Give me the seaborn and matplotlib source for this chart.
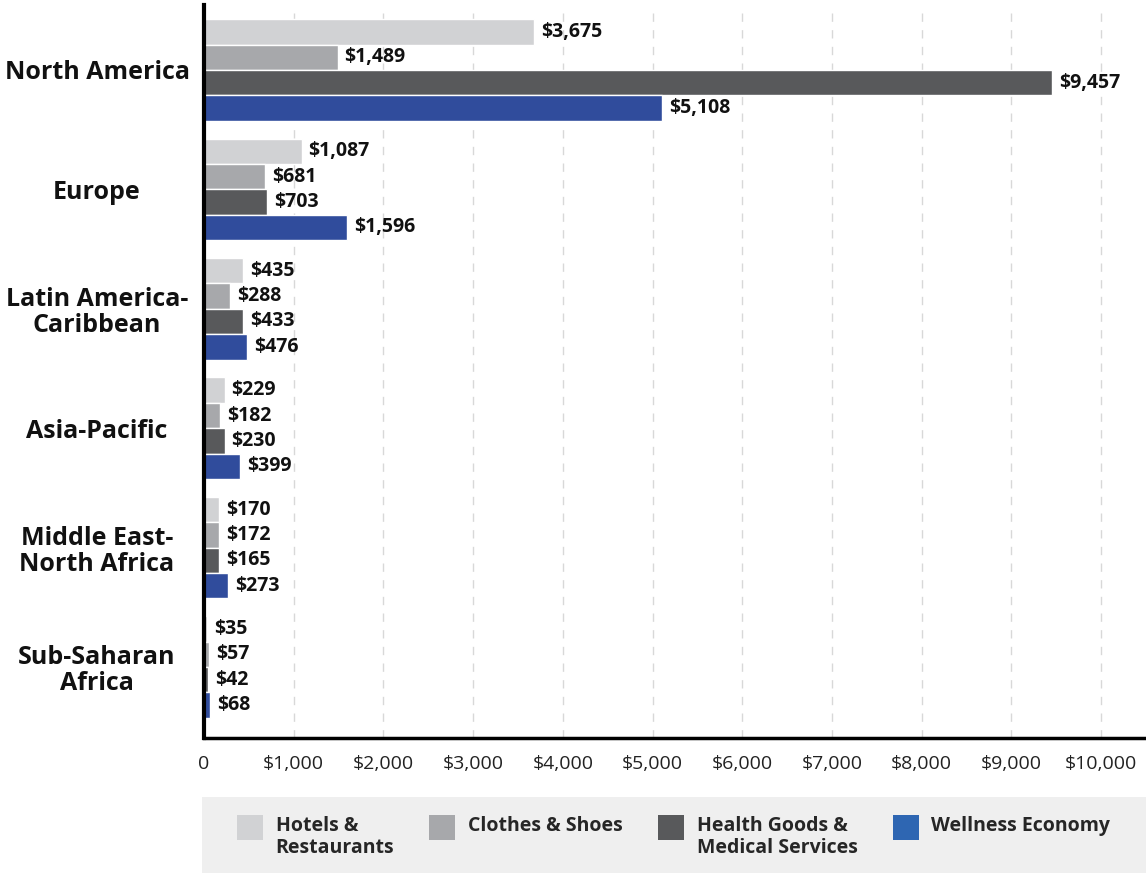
import numpy as np
import pandas as pd
import seaborn as sns
from matplotlib import pyplot as plt
from matplotlib.patches import Patch, Rectangle
from matplotlib.legend_handler import HandlerPatch
import matplotlib

regions = ['North America', 'Europe', 'Latin America-\nCaribbean', 'Asia-Pacific',
           'Middle East-\nNorth Africa', 'Sub-Saharan\nAfrica']
series = ['Hotels &\nRestaurants', 'Clothes & Shoes', 'Health Goods &\nMedical Services', 'Wellness Economy']
hotels = [3675, 1087, 435, 229, 170, 35]
clothes = [1489, 681, 288, 182, 172, 57]
health = [9457, 703, 433, 230, 165, 42]
wellness = [5108, 1596, 476, 399, 273, 68]
xticks = [0, 1000, 2000, 3000, 4000, 5000, 6000, 7000, 8000, 9000, 10000]

bar_colors = ['#d1d2d4', '#a7a8ab', '#58595b', '#304c9c']
legend_colors = ['#d1d2d4', '#a7a8ab', '#58595b', '#2e66b2']

sns.set_style('white')
matplotlib.rcParams['font.family'] = ['Open Sans', 'DejaVu Sans']

rows = []
for name, vals in zip(series, [hotels, clothes, health, wellness]):
    for reg, v in zip(regions, vals):
        rows.append({'region': reg, 'series': name, 'value': v})
df = pd.DataFrame(rows)

fig = plt.figure(figsize=(11.46, 8.73), dpi=100)
ax = fig.add_axes([0.178, 0.1546, 0.822, 0.8397])
sns.barplot(data=df, x='value', y='region', hue='series', order=regions, hue_order=series,
            palette=bar_colors, orient='h', width=0.85, gap=0, saturation=1,
            legend=False, ax=ax)

for cont in ax.containers:
    ax.bar_label(cont, labels=[f'${v:,.0f}' for v in cont.datavalues], padding=5,
                 fontsize=14, fontweight='bold', color='#111111')

ax.set_xlim(0, 10500)
ax.set_ylim(5.594, -0.544)
ax.set_xticks(xticks)
ax.set_xticklabels(['0'] + [f'${t:,}' for t in xticks[1:]], fontsize=14, color='#222222')
ax.set_yticks(range(len(regions)))
ax.set_yticklabels(regions, fontsize=18, fontweight='bold', ha='center', color='#111111',
                   linespacing=1.05)
ax.tick_params(axis='y', length=0, pad=77)
ax.tick_params(axis='x', length=0, pad=12)
ax.set_xlabel('')
ax.set_ylabel('')
ax.xaxis.grid(True, linestyle=(0, (6, 6)), color='#d8d8d8', linewidth=1)
ax.set_axisbelow(True)
for s in ['top', 'right']:
    ax.spines[s].set_visible(False)
ax.spines['left'].set_color('black')
ax.spines['left'].set_linewidth(3)
ax.spines['bottom'].set_color('black')
ax.spines['bottom'].set_linewidth(2.5)

# grey band behind the legend
fig.patches.append(Rectangle((0.176, 0.0), 0.824, 0.087, transform=fig.transFigure,
                             facecolor='#efefef', edgecolor='none', zorder=0))


def top_patch(legend, orig_handle, xdescent, ydescent, width, height, fontsize):
    return Rectangle((-xdescent, -ydescent + 6.5), width, height + 2)


leg_labels = [s if '\n' in s else s + '\n ' for s in series]
handles = [Patch(facecolor=c, edgecolor='none') for c in legend_colors]
leg = fig.legend(handles, leg_labels, ncol=4, loc='center left',
                 bbox_to_anchor=(0.198, 0.041), frameon=False, borderpad=0,
                 prop={'size': 14, 'weight': 'bold'}, handlelength=1.35, handleheight=1.35,
                 handletextpad=0.65, columnspacing=1.8, labelspacing=0,
                 handler_map={Patch: HandlerPatch(patch_func=top_patch)})
for t in leg.get_texts():
    t.set_linespacing(1.15)

plt.savefig('out.png', dpi=100)
plt.close()
